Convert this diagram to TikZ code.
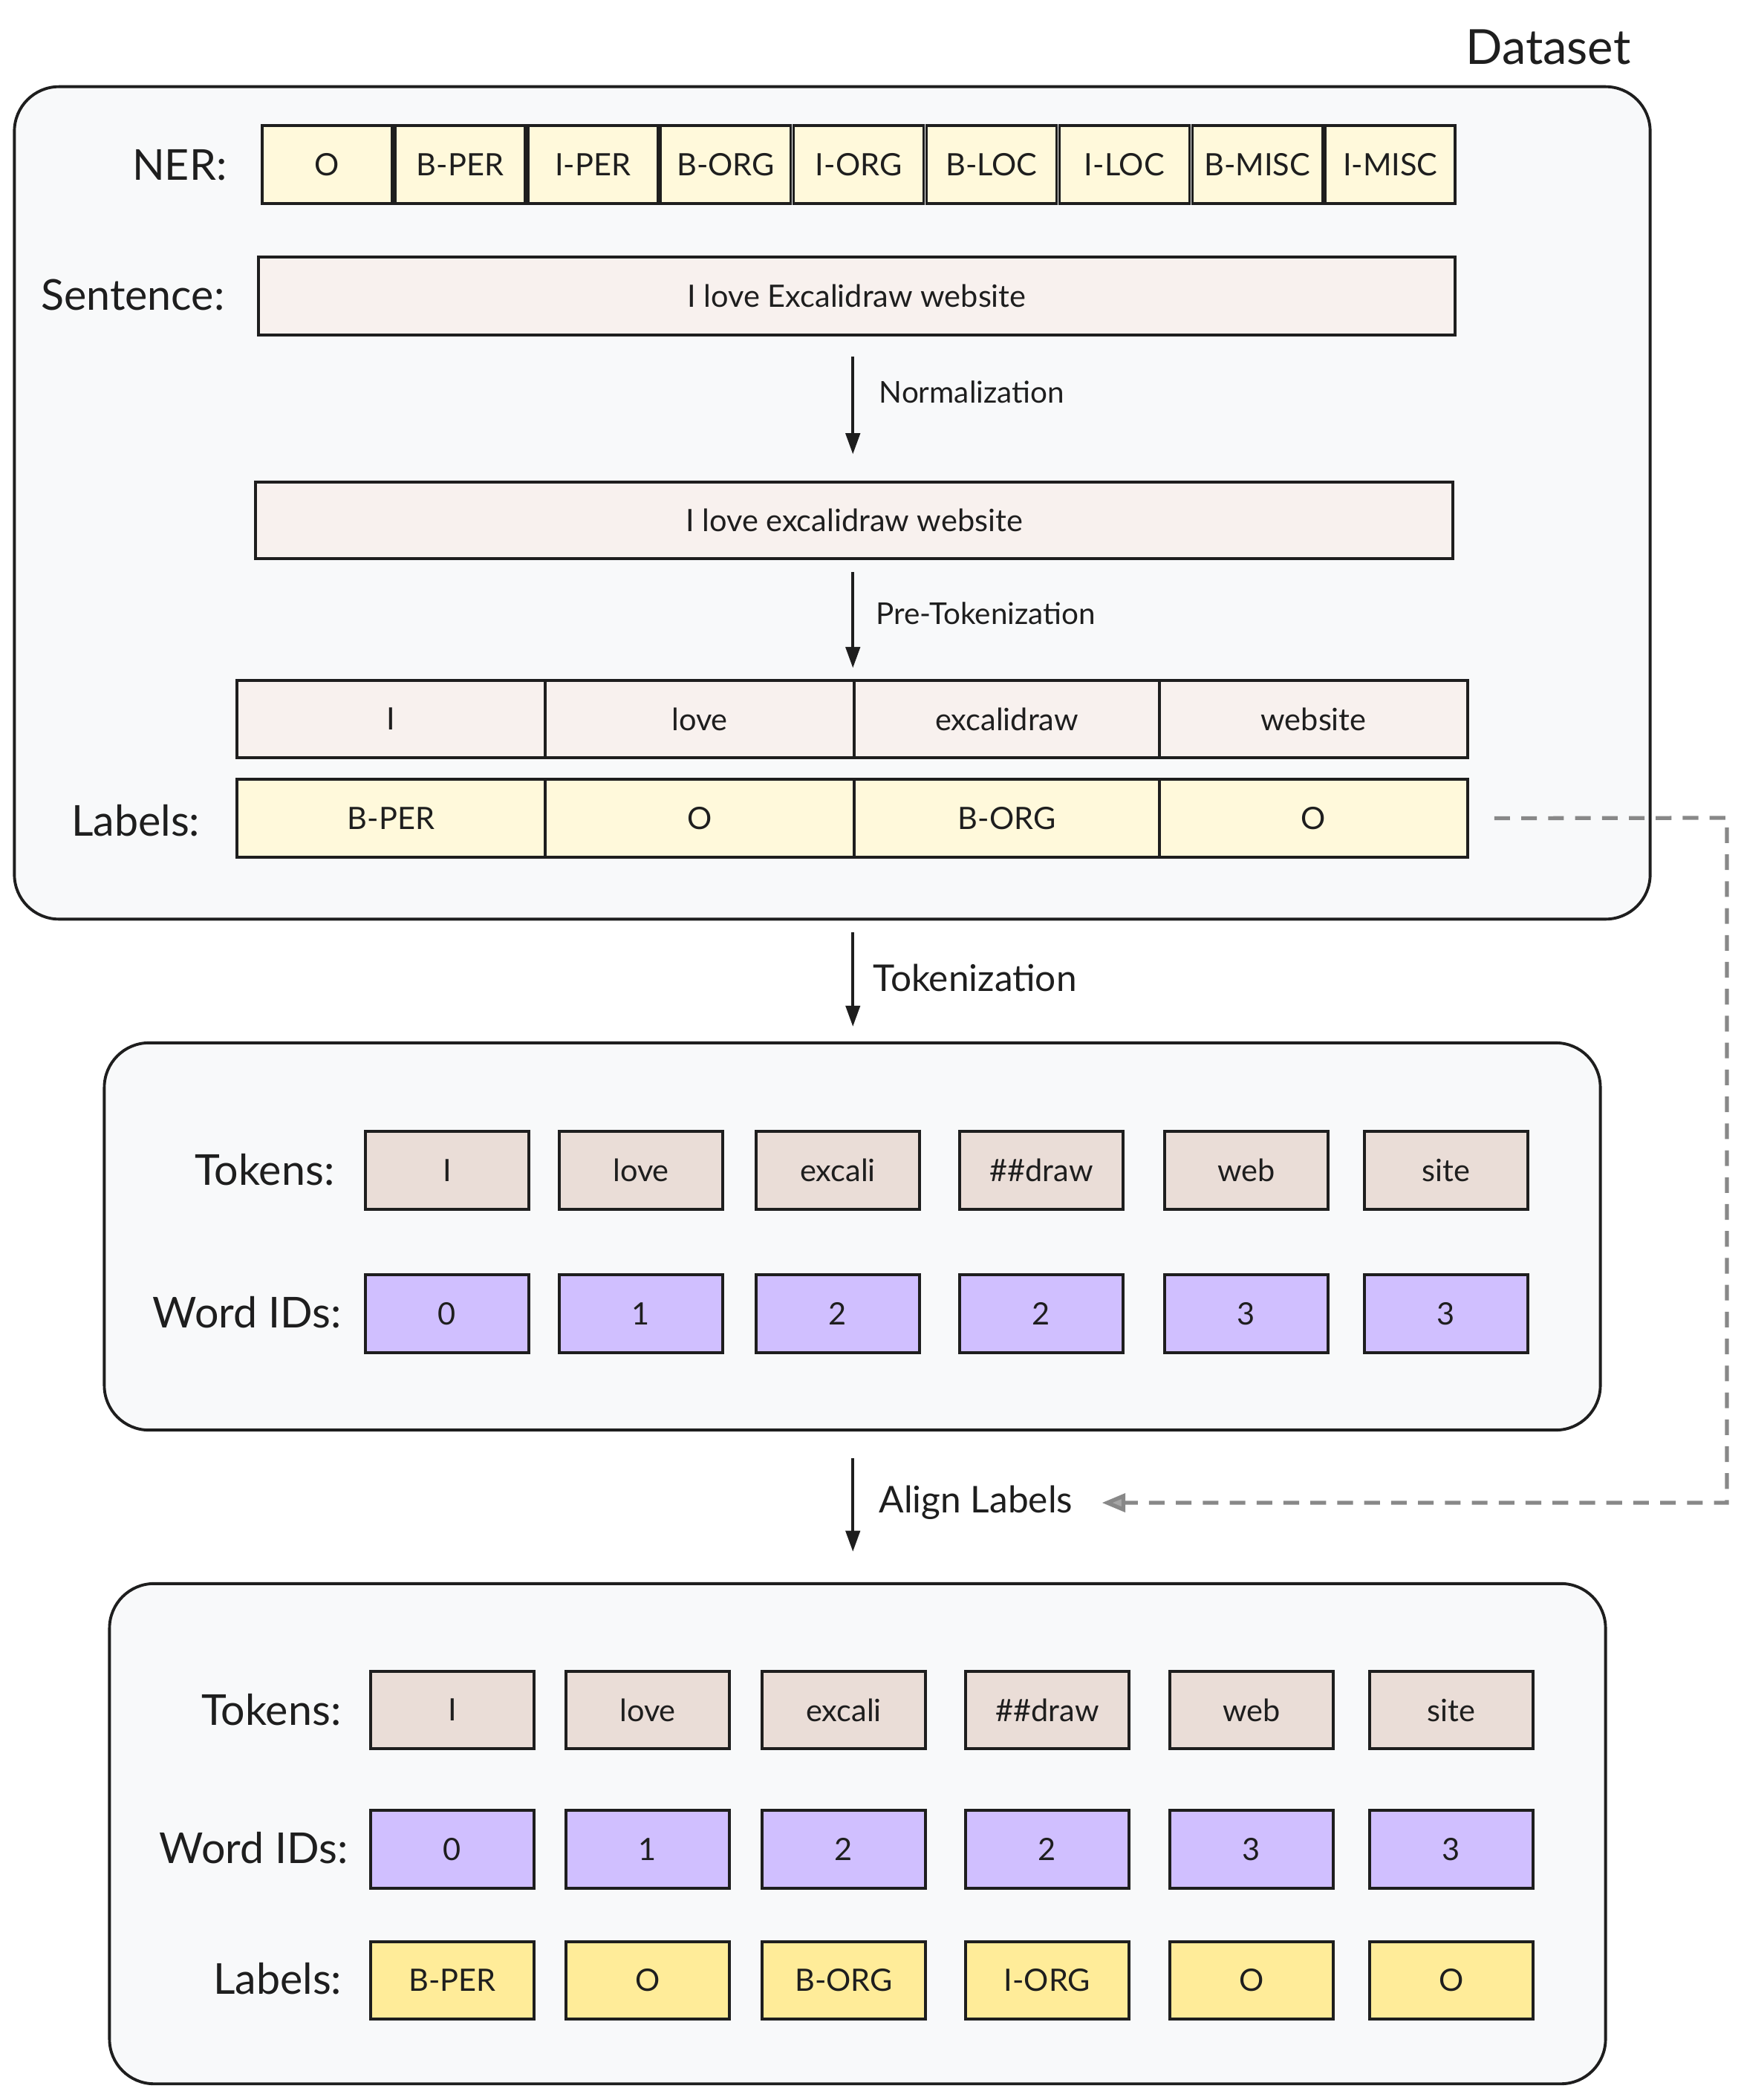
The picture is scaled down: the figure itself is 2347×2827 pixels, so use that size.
\documentclass[tikz,border=0pt]{standalone}
\usepackage{fontspec}
\setmainfont{Lato}
\usetikzlibrary{arrows.meta}
\definecolor{strokeColor}{HTML}{1E1E1E}
\definecolor{groupFill}{HTML}{F8F9FA}
\definecolor{nerFill}{HTML}{FFF9DB}
\definecolor{sentFill}{HTML}{F8F1EE}
\definecolor{tokenFill}{HTML}{EADDD7}
\definecolor{idFill}{HTML}{D0BFFF}
\definecolor{labelFill}{HTML}{FFEC99}
\definecolor{dashGray}{HTML}{888888}
\tikzstyle{diagram} = [x=0.01cm, y=-0.01cm, every node/.style={text=strokeColor}]
\tikzstyle{groupStyle} = [draw=strokeColor, fill=groupFill, line width=1.1pt, rounded corners=0.6cm]
\tikzstyle{cellStyle} = [draw=strokeColor, line width=1pt, inner sep=0pt, font=\fontsize{11.8}{14}\selectfont]
\tikzstyle{rowLabel} = [anchor=east, inner sep=0pt, font=\fontsize{16.3}{19}\selectfont]
\tikzstyle{stepLabel} = [anchor=west, inner sep=0pt, font=\fontsize{11.5}{14}\selectfont]
\tikzstyle{bigStepLabel} = [anchor=west, inner sep=0pt, font=\fontsize{14.1}{17}\selectfont]
\tikzstyle{flowArrow} = [draw=strokeColor, line width=1pt, -{Triangle[length=8pt, width=5.5pt]}]
\tikzstyle{dashLink} = [draw=dashGray, line width=1.5pt, dash pattern=on 6pt off 4.3pt, -{Triangle[length=9pt, width=7pt, fill=dashGray!75]}]
\newcommand{\gridCell}[7]{\node [cellStyle, fill=#2, minimum width=(#5)*0.01cm, minimum height=(#6)*0.01cm] (#1) at ({#3+(#5)/2},{#4+(#6)/2}) {#7};}

\begin{document}
\begin{tikzpicture}[diagram]
\useasboundingbox (0,0) rectangle (2347,2827);
% containers
\node [groupStyle, minimum width=22.01cm, minimum height=11.2cm] (dataBox) at (1120.5,677) {};
\node [groupStyle, minimum width=20.13cm, minimum height=5.21cm] (tokBox) at (1147.5,1664.5) {};
\node [groupStyle, minimum width=20.13cm, minimum height=6.73cm] (alignBox) at (1154.5,2468.5) {};
\node [anchor=east, inner sep=0pt, font=\fontsize{18.5}{22}\selectfont] (dataTitle) at (2196,63) {Dataset};
% dataset
\node [rowLabel] (nerLbl) at (306,222) {NER:};
\foreach \tag [count=\i] in {O,B-PER,I-PER,B-ORG,I-ORG,B-LOC,I-LOC,B-MISC,I-MISC} {
  \gridCell{ner\i}{nerFill}{353+(\i-1)*178.9}{169}{175}{105}{\tag}
}
\node [rowLabel] (sentLbl) at (303,397) {Sentence:};
\gridCell{sentRaw}{sentFill}{348}{346}{1611}{105}{I love Excalidraw website}
\gridCell{sentNorm}{sentFill}{344}{649}{1612}{103}{I love excalidraw website}
\foreach \lx/\rx/\w [count=\i] in {319/734/I,734/1150/love,1150/1561/excalidraw,1561/1976/website} {
  \gridCell{word\i}{sentFill}{\lx}{916}{\rx-\lx}{104}{\w}
}
\node [rowLabel] (labLbl) at (270,1105) {Labels:};
\foreach \lx/\rx/\w [count=\i] in {319/734/B-PER,734/1150/O,1150/1561/B-ORG,1561/1976/O} {
  \gridCell{lab\i}{nerFill}{\lx}{1049}{\rx-\lx}{105}{\w}
}
\draw [flowArrow, shorten <=7.7pt, shorten >=10.2pt] (sentRaw.south -| word3.west) -- (sentNorm.north -| word3.west);
\node [stepLabel] (normLbl) at (1183,528) {Normalization};
\draw [flowArrow, shorten <=4.6pt, shorten >=4.3pt] (sentNorm.south -| word3.west) -- (word3.north west);
\node [stepLabel] (preLbl) at (1179,826) {Pre-Tokenization};
% tokenization
\draw [flowArrow, shorten <=4.6pt, shorten >=5.7pt] (dataBox.south -| word3.west) -- (tokBox.north -| word3.west);
\node [bigStepLabel] (tokLbl) at (1175,1316) {Tokenization};
\node [rowLabel] (tokLblA) at (451,1575) {Tokens:};
\foreach \lx/\tok [count=\i] in {492/I,753/love,1018/excali,1292/\#\#draw,1568/web,1837/site} {
  \gridCell{tokA\i}{tokenFill}{\lx}{1523}{220}{105}{\tok}
}
\node [rowLabel] (idLblA) at (460,1767) {Word IDs:};
\foreach \lx/\id [count=\i] in {492/0,753/1,1018/2,1292/2,1568/3,1837/3} {
  \gridCell{idA\i}{idFill}{\lx}{1716}{220}{105}{\id}
}
% align labels
\draw [flowArrow, shorten <=10.2pt, shorten >=11.7pt] (tokBox.south -| word3.west) -- (alignBox.north -| word3.west);
\node [bigStepLabel] (alignLbl) at (1183,2023) {Align Labels};
\node [rowLabel] (tokLblB) at (460,2302) {Tokens:};
\foreach \lx/\tok [count=\i] in {499/I,762/love,1026/excali,1300/\#\#draw,1575/web,1844/site} {
  \gridCell{tokB\i}{tokenFill}{\lx}{2250}{220}{104}{\tok}
}
\node [rowLabel] (idLblB) at (469,2488) {Word IDs:};
\foreach \lx/\id [count=\i] in {499/0,762/1,1026/2,1300/2,1575/3,1844/3} {
  \gridCell{idB\i}{idFill}{\lx}{2437}{220}{105}{\id}
}
\node [rowLabel] (labLblB) at (461,2664) {Labels:};
\foreach \lx/\w [count=\i] in {499/B-PER,762/O,1026/B-ORG,1300/I-ORG,1575/O,1844/O} {
  \gridCell{labB\i}{labelFill}{\lx}{2614}{220}{104}{\w}
}
% label link
\coordinate (dashCorner) at (2325,1101);
\draw [dashLink] ([xshift=9.7pt]lab4.east) -- (dashCorner) |- ([xshift=11pt]alignLbl.east);
\end{tikzpicture}
\end{document}
